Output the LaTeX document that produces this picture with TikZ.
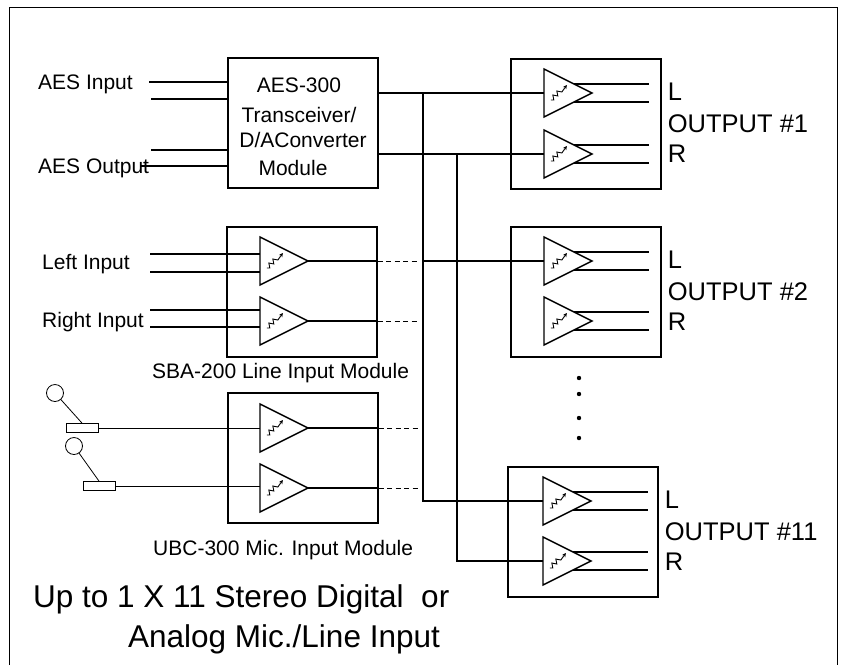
\documentclass[tikz,border=0pt]{standalone}
\usepackage{fontspec}
\setmainfont{Liberation Sans}
\usetikzlibrary{arrows.meta}
\usetikzlibrary{shapes.geometric}
\usetikzlibrary{positioning}
\tikzset{%
  module/.style={
    draw,
    rectangle,
    line width=1.4pt,
    minimum width=150pt,
    minimum height=130pt,
    inner sep=0pt
  },
  amp/.style={
    draw,
    isosceles triangle,
    isosceles triangle stretches,
    line width=1.4pt,
    minimum width=48pt,
    minimum height=48pt,
    inner sep=0pt,
    outer sep=0pt,
    anchor=west,
    path picture={
      \draw [line width=0.9pt, shift={(path picture bounding box.center)},
        xshift=-8pt, yshift=3pt, x=1pt, y=1pt, -{Stealth[length=4pt,width=4pt]}]
        (-8,-7) -- (-5,-7) -- (-6,-2) -- (-1,-3) -- (-2,2) -- (3,1) -- (8,8);
    }
  },
  mic head/.style={draw, circle, line width=0.8pt, minimum size=17pt, inner sep=0pt},
  mic plug/.style={draw, rectangle, line width=0.8pt, minimum width=32pt,
    minimum height=9pt, inner sep=0pt},
  wire/.style={line width=1.4pt},
  cord/.style={line width=0.8pt},
  link/.style={line width=0.8pt, dash pattern=on 5pt off 3.5pt, shorten >=5pt},
  lbl/.style={font=\fontsize{21}{25}\selectfont, inner sep=0pt, anchor=base west},
  outlbl/.style={font=\fontsize{25.5}{30}\selectfont, inner sep=0pt, anchor=base west},
  title/.style={font=\fontsize{31.5}{38}\selectfont, inner sep=0pt, anchor=base west},
}

\begin{document}
\begin{tikzpicture}[x=1pt,y=-1pt]
  \useasboundingbox (0,0) rectangle (845,665);
  \draw [line width=1pt] (9,665) -- (9,7) -- (837,7) -- (837,665);

  % modules
  \node (aes) [module] at (303,123) {};
  \node (sba) [module] at (302,292) {};
  \node (ubc) [module] at (303,458) {};
  \node (o1) [module] at (586,124) {};
  \node (o2) [module] at (586,292) {};
  \node (o11) [module] at (583,532) {};

  % amplifiers
  \node (sa1) [amp] at (260,261) {};
  \node (sa2) [amp] at (260,321) {};
  \node (ua1) [amp] at (260,428) {};
  \node (ua2) [amp] at (260,488) {};
  \node (o1a1) [amp] at (544,93) {};
  \node (o1a2) [amp] at (544,154) {};
  \node (o2a1) [amp] at (544,261) {};
  \node (o2a2) [amp] at (544,321) {};
  \node (o11a1) [amp] at (543,501) {};
  \node (o11a2) [amp] at (543,561) {};

  % texts
  \node (aesin) [lbl] at (38,89) {AES Input};
  \node (aesout) [lbl] at (38,173) {AES Output};
  \node (aest1) [lbl, anchor=base] at (299,92) {AES-300};
  \node (aest2) [lbl, anchor=base] at (299,122) {Transceiver/};
  \node (aest3) [lbl, anchor=base] at (303,147) {D/AConverter};
  \node (aest4) [lbl, anchor=base] at (293,175) {Module};
  \node (lin) [lbl] at (42,269) {Left Input};
  \node (rin) [lbl] at (42,327) {Right Input};
  \node (sbacap) [lbl] at (152,378) {SBA-200 Line Input Module};
  \node (ubccap) [lbl] at (153,555) {UBC-300 Mic. Input Module};
  \node (cap1) [title] at (33,607) {Up to 1 X 11 Stereo Digital~~or};
  \node (cap2) [title] at (128,647) {Analog Mic./Line Input};
  \foreach \n/\k in {o1/1,o2/2,o11/11} {
    \node (\n l) [outlbl] at ([shift={(6,42)}]\n.north east) {L};
    \node (\n t) [outlbl] at ([shift={(6,74)}]\n.north east) {OUTPUT \#\k};
    \node (\n r) [outlbl] at ([shift={(6,104)}]\n.north east) {R};
  }

  % microphones
  \node (mh1) [mic head] at (55,393) {};
  \node (mp1) [mic plug] at (82,428) {};
  \node (mh2) [mic head] at (74,446) {};
  \node (mp2) [mic plug] at (99,486) {};

  % inputs
  \draw [wire] ([yshift=41pt]aes.west) -- ++(-78,0);
  \draw [wire] ([yshift=24pt]aes.west) -- ++(-76,0);
  \draw [wire] ([yshift=-27pt]aes.west) -- ++(-76,0);
  \draw [wire] ([yshift=-43pt]aes.west) -- ++(-87,0);
  \draw [wire] ([yshift=7pt]sa1.west) -- ++(-110,0);
  \draw [wire] ([yshift=-11pt]sa1.west) -- ++(-110,0);
  \draw [wire] ([yshift=11pt]sa2.west) -- ++(-110,0);
  \draw [wire] ([yshift=-6pt]sa2.west) -- ++(-110,0);
  \draw [cord] (mh1) -- (mp1.north);
  \draw [cord] (mh2) -- (mp2.north);
  \draw [cord] (mp1.east) -- (mp1.east -| ua1.west);
  \draw [cord] (mp2.east) -- (mp2.east -| ua2.west);

  % bus
  \coordinate (bus1) at (423,93);
  \coordinate (bus2) at (457,154);
  \draw [wire] (aes.east |- o1a1.west) -- (o1a1.west);
  \draw [wire] (aes.east |- o1a2.west) -- (o1a2.west);
  \draw [wire] (bus1) |- (o11a1.west);
  \draw [wire] (bus2) |- (o11a2.west);
  \draw [wire] (bus1 |- o2a1.west) -- (o2a1.west);
  \foreach \m/\a in {sba/sa1,sba/sa2,ubc/ua1,ubc/ua2} {
    \draw [wire] (\a.apex) -- (\a.apex -| \m.east);
    \draw [link] (\a.apex -| \m.east) -- (\a.apex -| bus1);
  }

  % outputs
  \foreach \n in {o1,o2,o11}
    \foreach \a in {a1,a2}
      \foreach \d in {-9,9}
        \draw [wire] ([shift={(-18,\d)}]\n\a.apex) -- ++(75,0);

  \foreach \y in {378,394,418,438}
    \fill (579,\y) circle (2.2);
\end{tikzpicture}
\end{document}
